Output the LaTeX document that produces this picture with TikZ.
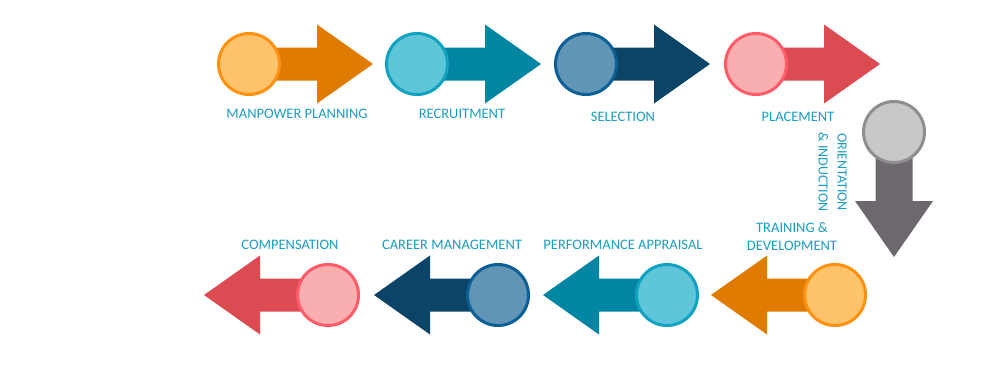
\documentclass[tikz,border=0pt]{standalone}
\usepackage{fontspec}
\setmainfont{Carlito}
\definecolor{txt}{HTML}{1B9CC0}
\definecolor{orA}{HTML}{DF7B00}\definecolor{orC}{HTML}{FFC46B}\definecolor{orS}{HTML}{FF9010}
\definecolor{tlA}{HTML}{0086A3}\definecolor{tlC}{HTML}{5FC5D9}\definecolor{tlS}{HTML}{10A2C0}
\definecolor{dbA}{HTML}{0B4466}\definecolor{dbC}{HTML}{6095B5}\definecolor{dbS}{HTML}{0A5F96}
\definecolor{rdA}{HTML}{DC4A52}\definecolor{rdC}{HTML}{F9AEB0}\definecolor{rdS}{HTML}{FF5B68}
\definecolor{gyA}{HTML}{6D686D}\definecolor{gyC}{HTML}{C8C8C8}\definecolor{gyS}{HTML}{8E8E8E}
\tikzset{
  bub/.style={circle, inner sep=0pt, minimum size=61pt, line width=3pt},
  lbl/.style={text=txt, font=\fontsize{14.5}{17.5}\selectfont, align=center, inner sep=0pt},
}
\newcommand\procarrow[5]{% x, y, rotation, arrow colour, circle prefix
  \begin{scope}[shift={(#1,#2)}, rotate=#3]
    \fill[#4] (20,-16.5) -- (68,-16.5) -- (68,-39.5) -- (124,0) -- (68,39.5) -- (68,16.5) -- (20,16.5) -- cycle;
  \end{scope}}
\begin{document}
\begin{tikzpicture}[x=1pt,y=-1pt]
\useasboundingbox (0,0) rectangle (1000,368);
% top row
\procarrow{249}{64}{0}{orA}{}
\node[bub, draw=orS, fill=orC] (c1) at (249,64) {};
\procarrow{417}{64}{0}{tlA}{}
\node[bub, draw=tlS, fill=tlC] (c2) at (417,64) {};
\procarrow{586}{64}{0}{dbA}{}
\node[bub, draw=dbS, fill=dbC] (c3) at (586,64) {};
\procarrow{756}{64}{0}{rdA}{}
\node[bub, draw=rdS, fill=rdC] (c4) at (756,64) {};
% down arrow
\begin{scope}[shift={(894,132)}, rotate=-90]
  \fill[gyA] (20,-18.5) -- (69,-18.5) -- (69,-39) -- (125,0) -- (69,39) -- (69,18.5) -- (20,18.5) -- cycle;
\end{scope}
\node[bub, draw=gyS, fill=gyC] (c5) at (894,132) {};
% bottom row
\procarrow{835}{295}{180}{orA}{}
\node[bub, draw=orS, fill=orC] (c6) at (835,295) {};
\procarrow{667}{295}{180}{tlA}{}
\node[bub, draw=tlS, fill=tlC] (c7) at (667,295) {};
\procarrow{498}{295}{180}{dbA}{}
\node[bub, draw=dbS, fill=dbC] (c8) at (498,295) {};
\procarrow{328}{295}{180}{rdA}{}
\node[bub, draw=rdS, fill=rdC] (c9) at (328,295) {};
% labels
\node[lbl] (l1) at (297,113.5) {MANPOWER PLANNING};
\node[lbl] (l2) at (462,113.5) {RECRUITMENT};
\node[lbl] (l3) at (623,117) {SELECTION};
\node[lbl] (l4) at (798,117) {PLACEMENT};
\node[lbl, rotate=-90, font=\fontsize{14}{19}\selectfont] (l5) at (832.5,172) {ORIENTATION\\\& INDUCTION};
\node[lbl] (l6) at (792,236.5) {TRAINING \&\\DEVELOPMENT};
\node[lbl] (l7) at (623,244.5) {PERFORMANCE APPRAISAL};
\node[lbl] (l8) at (452,244.5) {CAREER MANAGEMENT};
\node[lbl] (l9) at (290,244.5) {COMPENSATION};
\end{tikzpicture}
\end{document}
